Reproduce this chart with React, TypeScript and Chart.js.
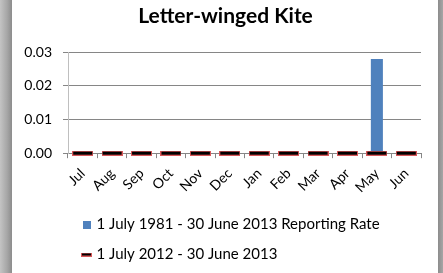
import React, { useEffect, useRef } from "react";
import { Chart, registerables } from "chart.js";

Chart.register(...registerables);

const months = ["Jul", "Aug", "Sep", "Oct", "Nov", "Dec", "Jan", "Feb", "Mar", "Apr", "May", "Jun"];
const longTermRate = [0, 0, 0, 0, 0, 0, 0, 0, 0, 0, 0.028, 0];
const recentRate = [0, 0, 0, 0, 0, 0, 0, 0, 0, 0, 0, 0];
const yTicks = [0, 0.01, 0.02, 0.03];
const seriesNames = ["1 July 1981 - 30 June 2013 Reporting Rate", "1 July 2012 - 30 June 2013"];
const chartTitle = "Letter-winged Kite";

function makeDash(w: number, h: number, border: number, edge: string, fill: string) {
  const c = document.createElement("canvas");
  c.width = w;
  c.height = h;
  const ctx = c.getContext("2d")!;
  ctx.fillStyle = edge;
  ctx.fillRect(0, 0, w, h);
  ctx.fillStyle = fill;
  ctx.fillRect(border, border, w - 2 * border, h - 2 * border);
  return c;
}

const shiftPlugin = {
  id: "shiftBlocks",
  afterLayout(chart: any) {
    const lg = chart.legend;
    if (lg) {
      lg.left += 1;
      lg.right += 1;
      lg.top -= 1;
      lg.bottom -= 1;
    }
    const t = chart.titleBlock;
    if (t) {
      t.left += 9;
      t.right += 9;
    }
  },
};

export default function App() {
  const ref = useRef<HTMLCanvasElement | null>(null);
  useEffect(() => {
    document.body.style.margin = "0";
    const dash = makeDash(21, 5, 1, "#d9585a", "#000000");
    const legendDash = makeDash(11, 4, 1, "#d9585a", "#000000");
    const legendSquare = makeDash(8, 8, 0, "#4f81bd", "#4f81bd");
    const font = "Lato, 'Open Sans', sans-serif";
    const chart = new Chart(ref.current!, {
      type: "bar",
      data: {
        labels: months,
        datasets: [
          {
            type: "bar",
            label: seriesNames[0],
            data: longTermRate,
            backgroundColor: "#4f81bd",
            categoryPercentage: 1,
            barPercentage: 0.41,
            order: 2,
          },
          {
            type: "line",
            label: seriesNames[1],
            data: recentRate,
            showLine: false,
            pointStyle: dash as any,
            pointRadius: 10,
            borderColor: "#000",
            backgroundColor: "#000",
            clip: false as any,
            order: 1,
          },
        ],
      },
      plugins: [shiftPlugin],
      options: {
        animation: false,
        responsive: false,
        maintainAspectRatio: false,
        layout: { padding: { left: 0, right: 17, top: 0, bottom: 0 } },
        plugins: {
          title: {
            display: true,
            text: chartTitle,
            color: "#000",
            font: { family: font, size: 21, weight: "bold" },
            padding: { top: 4, bottom: 23 },
          },
          tooltip: { enabled: false },
          legend: {
            position: "bottom",
            align: "start",
            fullSize: false,
            labels: {
              usePointStyle: true,
              pointStyleWidth: 5,
              boxWidth: 8,
              boxHeight: 8,
              padding: 15,
              color: "#000",
              font: { family: font, size: 15 },
              sort: (a: any, b: any) => a.datasetIndex - b.datasetIndex,
              generateLabels: (ch: any) => {
                const items = Chart.defaults.plugins.legend.labels.generateLabels(ch);
                items.forEach((it: any) => {
                  it.pointStyle = (it.datasetIndex === 0 ? legendSquare : legendDash) as any;
                  it.lineWidth = 0;
                });
                return items;
              },
            },
          },
        },
        scales: {
          x: {
            offset: true,
            grid: {
              offset: true,
              drawOnChartArea: false,
              drawTicks: true,
              tickLength: 5,
              color: "#868686",
            },
            border: { color: "#868686" },
            ticks: {
              color: "#000",
              font: { family: font, size: 14 },
              minRotation: 45,
              maxRotation: 45,
              padding: 7,
              autoSkip: false,
            },
          },
          y: {
            min: 0,
            max: 0.03,
            afterBuildTicks: (axis: any) => {
              axis.ticks = yTicks.map((v) => ({ value: v }));
            },
            afterFit: (scale: any) => {
              scale.width = 56;
            },
            grid: { color: "#868686", tickLength: 5 },
            border: { color: "#bfbfbf" },
            ticks: {
              color: "#000",
              font: { family: font, size: 14 },
              padding: 11,
              callback: (v: any) => Number(v).toFixed(2),
            },
          },
        },
      },
    });
    return () => chart.destroy();
  }, []);
  return (
    <div style={{ position: "fixed", left: 0, top: 0, width: 443, height: 273, background: "#fff" }}>
      <div
        style={{
          position: "absolute",
          left: 0,
          top: 0,
          width: 12,
          height: 273,
          background: "linear-gradient(to right, #c4c4c4, #a6a6a6 60%, #8c8c8c)",
        }}
      />
      <div
        style={{
          position: "absolute",
          left: 438,
          top: 0,
          width: 5,
          height: 273,
          background: "linear-gradient(to right, #8c8c8c, #a6a6a6)",
        }}
      />
      <canvas ref={ref} width={426} height={273} style={{ position: "absolute", left: 12, top: 0 }} />
    </div>
  );
}
